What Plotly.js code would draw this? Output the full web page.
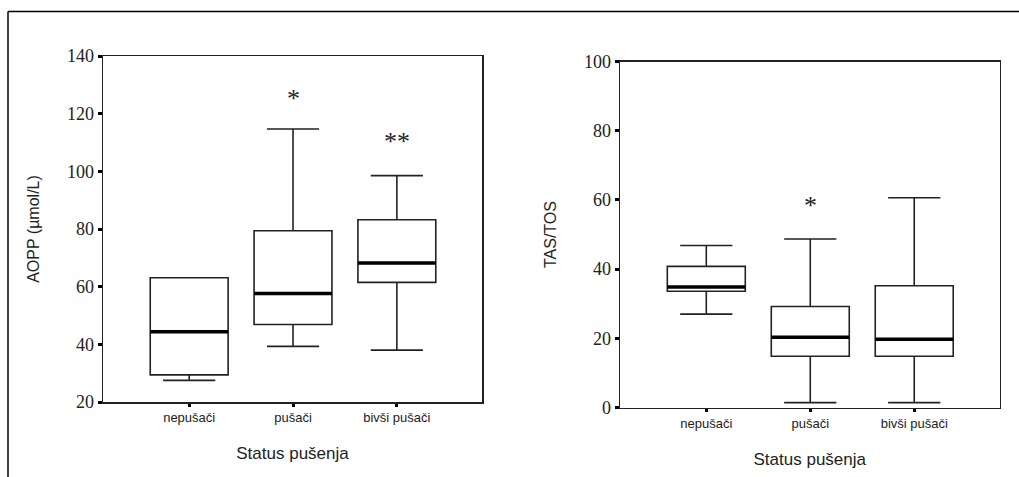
<!DOCTYPE html>
<html>
<head>
<meta charset="utf-8">
<script src="https://cdn.plot.ly/plotly-3.0.1.min.js"></script>
<style>html,body{margin:0;padding:0;background:#fff;}#chart{width:1019px;height:477px;}</style>
</head>
<body>
<div id="chart"></div>
<script>
// ---- data ----
const categories = ['nepušači', 'pušači', 'bivši pušači'];

// AOPP (µmol/L)
const aoppLower  = [27.5, 39.3, 38.0];
const aoppQ1     = [29.4, 46.9, 61.5];
const aoppMedian = [44.4, 57.6, 68.2];
const aoppQ3     = [63.1, 79.4, 83.2];
const aoppUpper  = [63.1, 114.7, 98.5];
const aoppExtremeCat   = ['pušači', 'bivši pušači'];
const aoppExtremeVal   = [126.5, 111.5];
const aoppExtremeLabel = ['*', '**'];

// TAS/TOS
const tasLower  = [27.0, 1.4, 1.4];
const tasQ1     = [33.6, 14.8, 14.8];
const tasMedian = [34.8, 20.3, 19.7];
const tasQ3     = [40.8, 29.2, 35.2];
const tasUpper  = [46.8, 48.7, 60.6];
const tasExtremeCat   = ['pušači'];
const tasExtremeVal   = [59.5];
const tasExtremeLabel = ['*'];

const aoppTicks = [20, 40, 60, 80, 100, 120, 140];
const tasTicks  = [0, 20, 40, 60, 80, 100];

// ---- styles ----
const ink = '#222222';
const boxStyle = {
  type: 'box', boxpoints: false, width: 0.75, whiskerwidth: 0.67,
  fillcolor: 'rgba(255,255,255,1)', line: {color: ink, width: 1.6},
  hoverinfo: 'skip', showlegend: false
};

function boxTraces(xa, ya, lo, q1, med, q3, up) {
  const main = Object.assign({}, boxStyle, {
    x: categories, q1: q1, median: med, q3: q3, lowerfence: lo, upperfence: up,
    xaxis: xa, yaxis: ya
  });
  // thick median line: a flat box drawn at the median
  const medLine = Object.assign({}, boxStyle, {
    x: categories, q1: med, median: med, q3: med, lowerfence: med, upperfence: med,
    fillcolor: 'rgba(0,0,0,0)', line: {color: '#000', width: 3.5}, whiskerwidth: 0,
    xaxis: xa, yaxis: ya
  });
  return [main, medLine];
}

// extreme-value markers ("*") as annotations placed through the axis scales
function starNotes(xa, ya, cats, vals, labels) {
  return cats.map((c, i) => ({
    xref: xa, yref: ya, x: c, y: vals[i], text: labels[i], showarrow: false,
    xanchor: 'center', yanchor: 'middle', yshift: -3.5,
    font: {family: 'Liberation Serif, Times New Roman, serif', size: 26, color: '#222'}
  }));
}

const data = [].concat(
  boxTraces('x', 'y', aoppLower, aoppQ1, aoppMedian, aoppQ3, aoppUpper),
  boxTraces('x2', 'y2', tasLower, tasQ1, tasMedian, tasQ3, tasUpper)
);

const W = 1019, H = 477;
const tickFontY = {family: 'Liberation Serif, Times New Roman, serif', size: 18, color: ink};
const tickFontX = {family: 'Liberation Sans, Arial, sans-serif', size: 13, color: ink};
const titleFont = {family: 'Liberation Sans, Arial, sans-serif', size: 16, color: ink};
const xTitleFont = {family: 'Liberation Sans, Arial, sans-serif', size: 17, color: ink};

function xAxis(domain, anchor, standoff) {
  return {
    domain: domain, anchor: anchor, type: 'category',
    categoryorder: 'array', categoryarray: categories,
    range: [-0.83, 2.82], showgrid: false, zeroline: false,
    showline: true, mirror: true, linecolor: ink, linewidth: 1.5,
    ticks: 'outside', ticklen: 3, tickwidth: 3, tickcolor: '#000',
    tickfont: tickFontX, automargin: false, fixedrange: true,
    title: {text: 'Status pušenja', font: xTitleFont, standoff: standoff}
  };
}
function yAxis(domain, anchor, range, ticks, title) {
  return {
    domain: domain, anchor: anchor, range: range,
    tickmode: 'array', tickvals: ticks, ticktext: ticks.map(String),
    showgrid: false, zeroline: false,
    showline: true, mirror: true, linecolor: ink, linewidth: 1.5,
    ticks: 'outside', ticklen: 4, tickwidth: 3, tickcolor: '#000',
    tickfont: tickFontY, automargin: false, fixedrange: true,
    title: {text: title, font: titleFont, standoff: 23}
  };
}

const layout = {
  width: W, height: H,
  margin: {l: 0, r: 0, t: 0, b: 0},
  paper_bgcolor: '#fff', plot_bgcolor: '#fff',
  showlegend: false,
  boxmode: 'overlay',
  xaxis:  xAxis([103 / W, 482 / W], 'y', 23),
  yaxis:  yAxis([1 - 402 / H, 1 - 56 / H], 'x', [20, 140], aoppTicks, 'AOPP (µmol/L)'),
  xaxis2: xAxis([620 / W, 999.5 / W], 'y2', 23),
  yaxis2: yAxis([1 - 407.5 / H, 1 - 61.5 / H], 'x2', [0, 100], tasTicks, 'TAS/TOS'),
  annotations: [].concat(
    starNotes('x', 'y', aoppExtremeCat, aoppExtremeVal, aoppExtremeLabel),
    starNotes('x2', 'y2', tasExtremeCat, tasExtremeVal, tasExtremeLabel)
  ),
  shapes: [
    {type: 'line', xref: 'paper', yref: 'paper', x0: 8 / W, x1: 1, y0: 1 - 11.5 / H, y1: 1 - 11.5 / H,
     line: {color: '#000', width: 1.5}},
    {type: 'line', xref: 'paper', yref: 'paper', x0: 8 / W, x1: 8 / W, y0: 0, y1: 1 - 11.5 / H,
     line: {color: '#000', width: 1.5}}
  ]
};

Plotly.newPlot('chart', data, layout, {staticPlot: true, displayModeBar: false});
</script>
</body>
</html>
